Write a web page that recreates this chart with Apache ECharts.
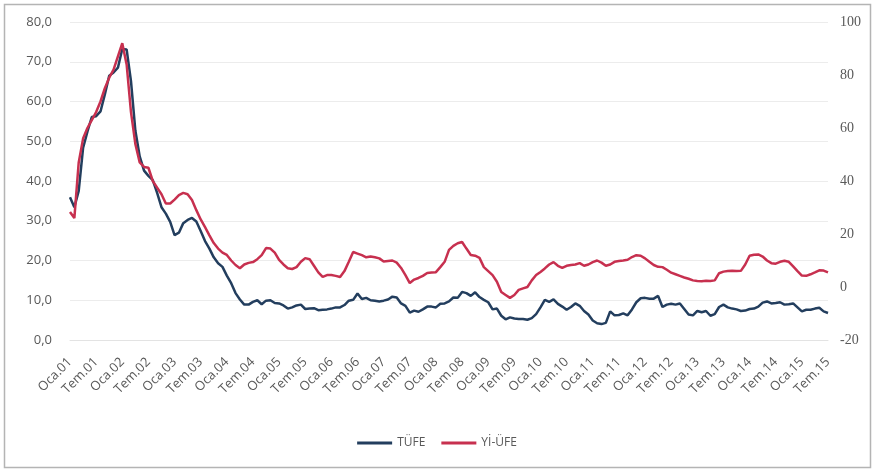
<!DOCTYPE html>
<html lang="tr">
<head>
<meta charset="UTF-8">
<title>TÜFE ve Yİ-ÜFE</title>
<script src="https://cdn.jsdelivr.net/npm/echarts@6/dist/echarts.min.js"></script>
<style>
  body { margin: 0; background: #fff; }
  #root { width: 874px; height: 476px; }
</style>
</head>
<body>
<div id="root"></div>
<script>
// ay adlari ve yillar (Oca.01 - Tem.15)
var monthNames = ['Oca', 'Şub', 'Mar', 'Nis', 'May', 'Haz', 'Tem', 'Ağu', 'Eyl', 'Eki', 'Kas', 'Ara'];
var years = ['01', '02', '03', '04', '05', '06', '07', '08', '09', '10', '11', '12', '13', '14', '15'];
var lastYearMonths = 7;

var categories = [];
years.forEach(function (y, yi) {
    var n = yi === years.length - 1 ? lastYearMonths : 12;
    for (var m = 0; m < n; m++) categories.push(monthNames[m] + '.' + y);
});

// TÜFE yillik % (sol eksen)
var tufe = [
    35.9, 33.4, 37.5, 48.3, 52.4, 56.1, 56.3, 57.5, 61.8, 66.5, 67.3, 68.5,
    73.2, 73.1, 65.1, 52.7, 46.2, 42.6, 41.3, 40.2, 37.0, 33.4, 31.8, 29.7,
    26.4, 27.0, 29.4, 30.2, 30.7, 29.8, 27.4, 24.9, 23.0, 20.8, 19.3, 18.4,
    16.2, 14.3, 11.8, 10.2, 8.9, 8.9, 9.6, 10.0, 9.0, 9.9, 10.0, 9.3,
    9.2, 8.7, 7.9, 8.2, 8.7, 8.9, 7.8, 7.9, 8.0, 7.5, 7.6, 7.7,
    7.9, 8.2, 8.2, 8.8, 9.9, 10.1, 11.7, 10.3, 10.6, 10.0, 9.9, 9.7,
    9.9, 10.2, 10.9, 10.7, 9.2, 8.6, 6.9, 7.4, 7.1, 7.7, 8.4, 8.4,
    8.2, 9.1, 9.2, 9.7, 10.7, 10.6, 12.1, 11.8, 11.1, 12.0, 10.8, 10.1,
    9.5, 7.7, 7.9, 6.1, 5.2, 5.7, 5.4, 5.3, 5.3, 5.1, 5.5, 6.5,
    8.2, 10.1, 9.6, 10.2, 9.1, 8.4, 7.6, 8.3, 9.2, 8.6, 7.3, 6.4,
    4.9, 4.2, 4.0, 4.3, 7.2, 6.2, 6.3, 6.7, 6.2, 7.7, 9.5, 10.5,
    10.6, 10.4, 10.4, 11.1, 8.3, 8.9, 9.1, 8.9, 9.2, 7.8, 6.4, 6.2,
    7.3, 7.0, 7.3, 6.1, 6.5, 8.3, 8.9, 8.2, 7.9, 7.7, 7.3, 7.4,
    7.8, 7.9, 8.4, 9.4, 9.7, 9.2, 9.3, 9.5, 8.9, 9.0, 9.2, 8.2,
    7.2, 7.6, 7.6, 7.9, 8.1, 7.2, 6.8
];

// Yİ-ÜFE yillik % (sag eksen)
var yiufe = [
    28.3, 26.0, 47.0, 56.0, 60.0, 63.0, 66.0, 70.0, 75.0, 79.0, 82.0, 87.0,
    92.0, 84.0, 66.0, 54.0, 47.0, 45.3, 45.0, 40.0, 37.5, 35.0, 31.5, 31.5,
    33.0, 34.7, 35.5, 35.0, 32.8, 29.0, 25.5, 22.6, 19.5, 16.6, 14.5, 13.0,
    12.1, 10.0, 8.3, 7.1, 8.5, 9.1, 9.4, 10.5, 12.0, 14.7, 14.5, 13.0,
    10.2, 8.5, 7.1, 6.8, 7.5, 9.5, 10.9, 10.5, 8.0, 5.5, 3.8, 4.5,
    4.5, 4.2, 3.8, 6.0, 9.5, 13.2, 12.6, 12.0, 11.2, 11.5, 11.2, 10.8,
    9.6, 9.8, 10.0, 9.2, 7.2, 4.5, 1.5, 2.8, 3.4, 4.2, 5.3, 5.5,
    5.6, 7.5, 9.5, 14.0, 15.5, 16.5, 17.0, 14.5, 12.1, 11.8, 11.0, 7.5,
    6.0, 4.5, 2.0, -1.9, -3.0, -4.1, -3.0, -1.1, -0.5, 0.0, 2.5, 4.5,
    5.7, 7.0, 8.5, 9.4, 8.0, 7.2, 8.0, 8.3, 8.5, 9.0, 8.0, 8.5,
    9.4, 10.0, 9.2, 8.0, 8.5, 9.5, 9.8, 10.0, 10.3, 11.3, 12.0, 11.8,
    10.8, 9.5, 8.3, 7.6, 7.5, 6.5, 5.4, 4.8, 4.2, 3.6, 3.1, 2.5,
    2.3, 2.2, 2.4, 2.3, 2.5, 5.2, 5.8, 6.0, 6.1, 6.0, 6.1, 8.5,
    11.8, 12.2, 12.3, 11.5, 10.0, 9.0, 8.8, 9.5, 9.9, 9.5, 7.8, 6.0,
    4.3, 4.2, 4.8, 5.5, 6.3, 6.2, 5.5
];

var leftTicks = { min: 0, max: 80, step: 10 };
var rightTicks = { min: -20, max: 100, step: 20 };

var chart = echarts.init(document.getElementById('root'));

chart.setOption({
    backgroundColor: '#fff',
    animation: false,
    textStyle: { fontFamily: 'Open Sans, sans-serif' },
    graphic: [{
        type: 'rect',
        shape: { x: 4.5, y: 4.5, width: 866, height: 463 },
        style: { fill: 'none', stroke: '#b4b4b4', lineWidth: 1.5 },
        silent: true
    }],
    grid: { left: 70, right: 46, top: 22, bottom: 136 },
    legend: {
        bottom: 22,
        left: 'center',
        icon: 'rect',
        itemWidth: 35,
        itemHeight: 3,
        itemGap: 16,
        textStyle: { color: '#595959', fontSize: 12 },
        data: ['TÜFE', 'Yİ-ÜFE']
    },
    xAxis: {
        type: 'category',
        data: categories,
        boundaryGap: false,
        axisLine: { show: true, lineStyle: { color: '#e3e3e3' } },
        axisTick: { show: false },
        splitLine: { show: false },
        axisLabel: {
            interval: 5,
            rotate: 45,
            margin: 20,
            color: '#595959',
            fontSize: 13
        }
    },
    yAxis: [{
        type: 'value',
        min: leftTicks.min,
        max: leftTicks.max,
        interval: leftTicks.step,
        axisLine: { show: false },
        axisTick: { show: false },
        splitLine: { lineStyle: { color: '#ececec' } },
        axisLabel: {
            margin: 18,
            color: '#595959',
            fontSize: 13,
            formatter: function (v) { return v.toFixed(1).replace('.', ','); }
        }
    }, {
        type: 'value',
        min: rightTicks.min,
        max: rightTicks.max,
        interval: rightTicks.step,
        axisLine: { show: false },
        axisTick: { show: false },
        splitLine: { show: false },
        axisLabel: {
            margin: 12,
            color: '#595959',
            fontSize: 14,
            fontFamily: 'Liberation Serif, serif'
        }
    }],
    series: [{
        name: 'TÜFE',
        type: 'line',
        data: tufe,
        showSymbol: false,
        itemStyle: { color: '#233e5e' },
        lineStyle: { width: 2.5, color: '#233e5e' }
    }, {
        name: 'Yİ-ÜFE',
        type: 'line',
        yAxisIndex: 1,
        data: yiufe,
        showSymbol: false,
        itemStyle: { color: '#c7304f' },
        lineStyle: { width: 2.5, color: '#c7304f' }
    }]
});
</script>
</body>
</html>
